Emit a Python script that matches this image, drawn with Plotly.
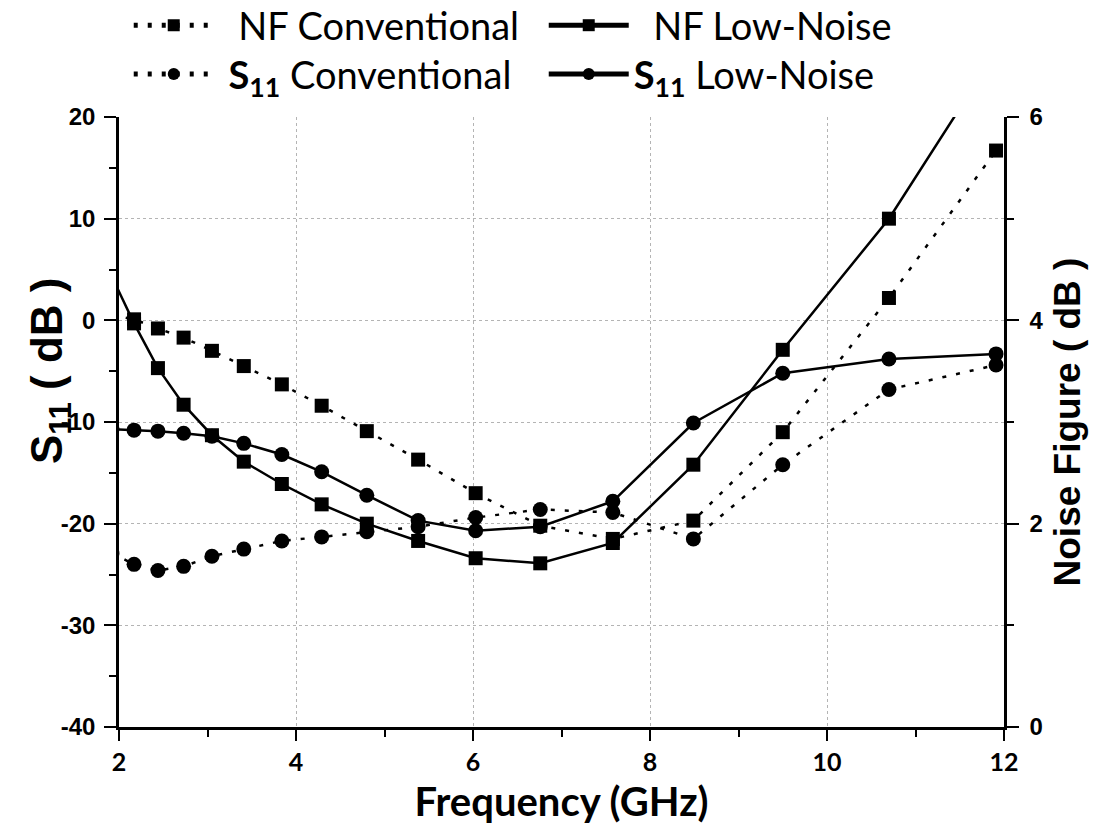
import plotly.graph_objects as go

# Frequency points (GHz)
freq = [1.92, 2.17, 2.44, 2.73, 3.05, 3.41, 3.84, 4.29, 4.80, 5.38,
        6.03, 6.76, 7.58, 8.49, 9.50, 10.70, 11.91]

# Noise figure (dB), right axis
nf_conventional = [4.05, 4.01, 3.92, 3.83, 3.70, 3.55, 3.37, 3.16, 2.91, 2.63,
                   2.30, 1.98, 1.85, 2.03, 2.90, 4.22, 5.67]
nf_low_noise = [4.43, 3.97, 3.53, 3.17, 2.87, 2.61, 2.39, 2.19, 2.00, 1.83,
                1.66, 1.61, 1.81, 2.58, 3.71, 5.00, 6.64]

# Input reflection S11 (dB), left axis
s11_conventional = [-22.9, -24.0, -24.6, -24.2, -23.2, -22.5, -21.7, -21.3, -20.8, -20.3,
                    -19.4, -18.6, -18.9, -21.5, -14.2, -6.8, -4.4]
s11_low_noise = [-10.7, -10.8, -10.9, -11.1, -11.4, -12.1, -13.2, -14.9, -17.2, -19.7,
                 -20.7, -20.3, -17.8, -10.1, -5.2, -3.8, -3.3]

x_ticks = [2, 4, 6, 8, 10, 12]
s11_ticks = [-40, -30, -20, -10, 0, 10, 20]
s11_tick_text = ["-40", "-30", "-20", "-10", "0", "10", "20"]
nf_ticks = [0, 2, 4, 6]

DOT = "4px,10px"
LW = 2.5

fig = go.Figure()

fig.add_trace(go.Scatter(
    x=freq, y=nf_conventional, name="\u00a0\u00a0NF Conventional", yaxis="y2",
    mode="lines+markers", line=dict(color="black", width=LW, dash=DOT),
    marker=dict(symbol="square", size=14, color="black"), legend="legend"))
fig.add_trace(go.Scatter(
    x=freq, y=nf_low_noise, name="\u00a0\u00a0NF Low-Noise", yaxis="y2",
    mode="lines+markers", line=dict(color="black", width=LW),
    marker=dict(symbol="square", size=14, color="black"), legend="legend"))
fig.add_trace(go.Scatter(
    x=freq, y=s11_conventional, name="\u00a0<b>S<sub>11</sub></b> Conventional",
    mode="lines+markers", line=dict(color="black", width=LW, dash=DOT),
    marker=dict(symbol="circle", size=15, color="black"), legend="legend2"))
fig.add_trace(go.Scatter(
    x=freq, y=s11_low_noise, name="<b>S<sub>11</sub></b> Low-Noise",
    mode="lines+markers", line=dict(color="black", width=LW),
    marker=dict(symbol="circle", size=15, color="black"), legend="legend2"))

arial = "Liberation Sans, Arial, sans-serif"
calib = "Lato, Open Sans, sans-serif"
grid = dict(showgrid=True, gridcolor="#b4b4b4", gridwidth=1, griddash="dot")

legend_common = dict(
    orientation="h", xanchor="left", yanchor="middle",
    font=dict(family=calib, size=38, color="black"),
    itemwidth=80, itemsizing="constant",
    entrywidth=320, entrywidthmode="pixels",
    bgcolor="rgba(0,0,0,0)", tracegroupgap=0,
)

fig.update_layout(
    width=1102, height=839,
    margin=dict(l=119, r=98, t=117, b=112, autoexpand=False),
    paper_bgcolor="white", plot_bgcolor="white",
    showlegend=True,
    legend=dict(x=0.011, y=1.150, **legend_common),
    legend2=dict(x=0.011, y=1.070, **legend_common),
    xaxis=dict(
        range=[2, 12], tickvals=x_ticks, ticktext=[str(v) for v in x_ticks],
        ticks="outside", ticklen=11, tickwidth=2, tickcolor="black",
        minor=dict(dtick=1, tick0=0, ticks="outside", ticklen=7, tickwidth=2, tickcolor="black"),
        showline=True, linecolor="black", linewidth=2.5,
        tickfont=dict(family=calib, size=25, color="black", weight="bold"),
        title=dict(text="<b>Frequency (GHz)</b>", font=dict(family=calib, size=40, color="black"),
                   standoff=14),
        zeroline=False, **grid,
    ),
    xaxis2=dict(
        range=[2, 12], overlaying="x", side="top", anchor="y",
        ticks="inside", dtick=1, tick0=0, ticklen=7, tickwidth=2, tickcolor="black",
        showticklabels=False, showline=True, linecolor="black", linewidth=2.5,
        showgrid=False, zeroline=False,
    ),
    yaxis=dict(
        range=[-40, 20], tickvals=s11_ticks, ticktext=s11_tick_text,
        ticks="outside", ticklen=12, tickwidth=2, tickcolor="black",
        minor=dict(dtick=5, tick0=0, ticks="outside", ticklen=7, tickwidth=2, tickcolor="black"),
        showline=True, linecolor="black", linewidth=2.5,
        tickfont=dict(family=arial, size=24, color="black", weight="bold"),
        ticklabelstandoff=4,
        zeroline=False, **grid,
    ),
    yaxis2=dict(
        range=[0, 6], tickvals=nf_ticks, overlaying="y", side="right", anchor="x",
        ticks="outside", ticklen=12, tickwidth=2, tickcolor="black",
        minor=dict(dtick=1, tick0=0, ticks="outside", ticklen=7, tickwidth=2, tickcolor="black"),
        showline=True, linecolor="black", linewidth=2.5,
        tickfont=dict(family=arial, size=24, color="black", weight="bold"),
        ticklabelstandoff=6,
        title=dict(text="<b>Noise Figure ( dB )</b>", font=dict(family=arial, size=37, color="black"),
                   standoff=12),
        showgrid=False, zeroline=False,
    ),
    annotations=[dict(
        text="<b>S<sub>11</sub> ( dB )</b>", textangle=-90,
        xref="paper", yref="paper", x=-0.078, y=0.585,
        xanchor="center", yanchor="middle", showarrow=False,
        font=dict(family=arial, size=44, color="black"),
    )],
)

fig.write_html("out.html")
